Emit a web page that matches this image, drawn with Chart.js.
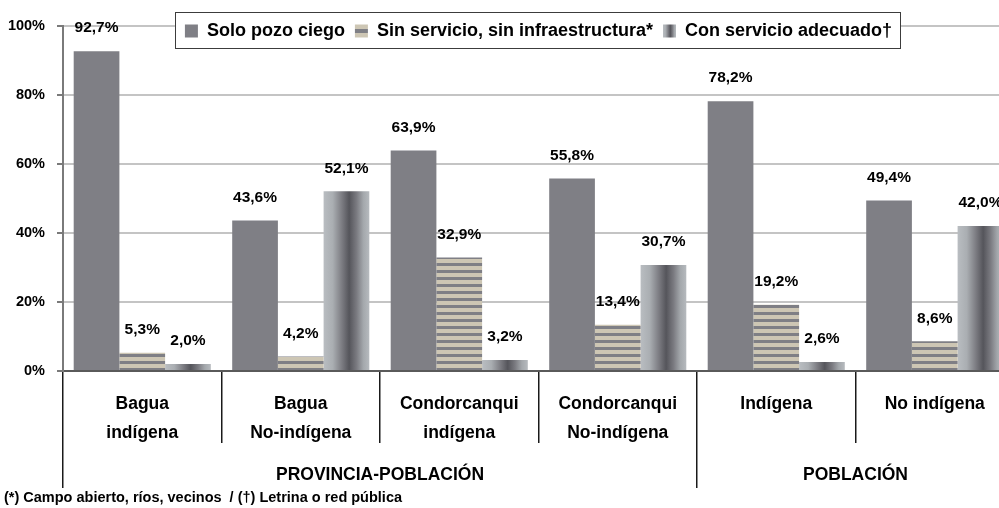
<!DOCTYPE html>
<html><head><meta charset="utf-8">
<script src="https://cdn.jsdelivr.net/npm/chart.js@4/dist/chart.umd.min.js"></script>
<style>html,body{margin:0;padding:0;background:#fff;overflow:hidden}
#wrap{width:999px;height:508px;overflow:hidden;position:relative;background:#fff}
canvas{display:block}</style></head>
<body><div id="wrap"><canvas id="c" width="1014" height="508"></canvas></div>
<script>
// ---- data ----
const categories = [['Bagua','indígena'],['Bagua','No-indígena'],['Condorcanqui','indígena'],['Condorcanqui','No-indígena'],['Indígena',''],['No indígena','']];
const seriesNames = ['Solo pozo ciego','Sin servicio, sin infraestructura*','Con servicio adecuado†'];
const soloPozo = [92.7, 43.6, 63.9, 55.8, 78.2, 49.4];
const sinServicio = [5.3, 4.2, 32.9, 13.4, 19.2, 8.6];
const conServicio = [2.0, 52.1, 3.2, 30.7, 2.6, 42.0];
const yTicks = [0, 20, 40, 60, 80, 100];
const groupNames = ['PROVINCIA-POBLACIÓN', 'POBLACIÓN'];
const groupSpans = [4, 2];
const footnote = '(*) Campo abierto, ríos, vecinos  / (†) Letrina o red pública';

// ---- styles ----
const FONT = "'Liberation Sans', Arial, sans-serif";
const CAT_PCT = 0.865;
const GRAY = '#7f7f85';
const BEIGE = '#cdc6b4';
const LEGEND_RAISE = 14;
const canvas = document.getElementById('c');
const mainCtx = canvas.getContext('2d');

function stripePattern() {
  const c = document.createElement('canvas');
  c.width = 8; c.height = 7;
  const g = c.getContext('2d');
  g.fillStyle = BEIGE; g.fillRect(0, 0, 8, 7);
  g.fillStyle = GRAY; g.fillRect(0, 4, 8, 3);
  return mainCtx.createPattern(c, 'repeat');
}
const STRIPES = stripePattern();

function barGradient(ctx2d, left, right) {
  const g = ctx2d.createLinearGradient(left, 0, right, 0);
  g.addColorStop(0, '#b9bdc1');
  g.addColorStop(0.2, '#aaaeb2');
  g.addColorStop(0.4, '#7c7c82');
  g.addColorStop(0.56, '#55555b');
  g.addColorStop(0.72, '#7a7a80');
  g.addColorStop(0.87, '#a4a8ac');
  g.addColorStop(1, '#b6babe');
  return g;
}

const boundaries = [0];
const groupCenters = [];
groupSpans.forEach((s) => { const b = boundaries[boundaries.length - 1]; groupCenters.push(b + s / 2); boundaries.push(b + s); });
const x2Ticks = boundaries.concat(groupCenters).sort((a, b) => a - b);

const fmt = v => v.toFixed(1).replace('.', ',') + '%';

// legend laid out as a single row at the top of the chart area
const legendRow = {
  id: 'legendRow',
  beforeUpdate(chart) {
    const lg = chart.legend;
    if (lg && !lg._rowPatched) {
      lg.isHorizontal = () => true;
      const orig = lg.setDimensions.bind(lg);
      lg.setDimensions = function () {
        const l = this.left, t = this.top;
        orig();
        if (typeof l === 'number') { this.left = l; this.right = l + this.width; }
        if (typeof t === 'number') { this.top = t - LEGEND_RAISE; }
      };
      lg._rowPatched = true;
    }
  }
};

const valueLabels = {
  id: 'valueLabels',
  afterDatasetsDraw(chart) {
    const ctx = chart.ctx;
    ctx.save();
    ctx.font = 'bold 15.5px ' + FONT;
    ctx.fillStyle = '#000';
    ctx.textAlign = 'center';
    ctx.textBaseline = 'middle';
    chart.data.datasets.forEach((ds, i) => {
      chart.getDatasetMeta(i).data.forEach((el, j) => {
        ctx.fillText(fmt(ds.data[j]), el.x, el.y - 23);
      });
    });
    ctx.restore();
  }
};

const legendFrame = {
  id: 'legendFrame',
  afterDraw(chart) {
    const lg = chart.legend;
    if (!lg || !lg.legendHitBoxes || !lg.legendHitBoxes.length) return;
    const hb = lg.legendHitBoxes;
    const ctx = chart.ctx;
    const bw = lg.options.labels.boxWidth, bh = lg.options.labels.boxHeight;
    const last = hb[hb.length - 1];
    const L = hb[0].left - 10, R = last.left + last.width + 8;
    const T = hb[0].top - 10, B = hb[0].top + hb[0].height + 8;
    ctx.save();
    ctx.fillStyle = '#fff';
    ctx.fillRect(L, T, R - L, B - T);
    ctx.strokeStyle = '#3c3c3c';
    ctx.lineWidth = 1;
    ctx.strokeRect(Math.round(L) + 0.5, Math.round(T) + 0.5, Math.round(R - L), Math.round(B - T));
    ctx.restore();
    const items = lg.legendItems;
    const iy = hb[1].top + (hb[1].height - bh) / 2;
    const sg = ctx.createLinearGradient(0, iy, 0, iy + bh);
    sg.addColorStop(0, BEIGE); sg.addColorStop(0.33, BEIGE);
    sg.addColorStop(0.33, GRAY); sg.addColorStop(0.66, GRAY);
    sg.addColorStop(0.66, BEIGE); sg.addColorStop(1, BEIGE);
    items[1].fillStyle = sg;
    items[2].fillStyle = barGradient(ctx, hb[2].left, hb[2].left + bw);
    lg.draw();
  }
};

new Chart(canvas, {
  type: 'bar',
  data: {
    labels: categories,
    datasets: [
      { label: seriesNames[0], data: soloPozo, backgroundColor: GRAY },
      { label: seriesNames[1], data: sinServicio, backgroundColor: STRIPES },
      { label: seriesNames[2], data: conServicio, backgroundColor: (c) => {
          const ch = c.chart, xs = ch.scales && ch.scales.x;
          if (c.type !== 'data' || !xs) return '#8a8a90';
          const center = xs.getPixelForValue(c.dataIndex);
          const catW = xs.width / categories.length;
          const groupW = catW * CAT_PCT;
          const w = groupW / 3;
          const left = center - groupW / 2 + 2 * w;
          return barGradient(ch.ctx, left, left + w);
        } }
    ]
  },
  options: {
    responsive: false,
    animation: false,
    devicePixelRatio: 1,
    layout: { padding: { left: 4, top: 26, right: 0, bottom: 0 } },
    datasets: { bar: { categoryPercentage: CAT_PCT, barPercentage: 1, borderWidth: 0 } },
    plugins: {
      tooltip: { enabled: false },
      legend: {
        position: 'chartArea',
        align: 'center',
        labels: {
          font: { family: FONT, size: 18, weight: 'bold' },
          color: '#000',
          boxWidth: 13, boxHeight: 13, padding: 10,
          generateLabels: () => seriesNames.map((n, i) => ({
            text: n, fillStyle: [GRAY, BEIGE, '#888'][i], strokeStyle: 'rgba(0,0,0,0)', lineWidth: 0, hidden: false, datasetIndex: i
          }))
        }
      },
      subtitle: {
        display: true, text: footnote, position: 'bottom', align: 'start', color: '#000',
        font: { family: FONT, size: 14.5, weight: 'bold', lineHeight: '15px' },
        padding: { top: 0, bottom: 3 }
      }
    },
    scales: {
      x: {
        type: 'category', offset: true,
        grid: { offset: true, drawOnChartArea: false, tickLength: 72, color: '#1a1a1a', lineWidth: 1.5 },
        border: { display: true, color: '#5a5a5a', width: 2 },
        ticks: { font: { family: FONT, size: 17.5, weight: 'bold', lineHeight: 1.7 }, color: '#000', padding: -54, maxRotation: 0, minRotation: 0, autoSkip: false },
        afterFit(s) { s.height = 72; }
      },
      x2: {
        type: 'linear', position: 'bottom', min: 0, max: boundaries[boundaries.length - 1], offset: false, weight: 1,
        grid: { offset: false, drawOnChartArea: false, tickLength: 45, lineWidth: 1.5,
          color: (c) => (c.tick && boundaries.includes(c.tick.value)) ? '#1a1a1a' : 'rgba(0,0,0,0)' },
        border: { display: false },
        afterBuildTicks(s) { s.ticks = x2Ticks.map(v => ({ value: v })); },
        ticks: { callback: (v) => { const k = groupCenters.indexOf(v); return k >= 0 ? groupNames[k] : ''; },
          font: { family: FONT, size: 17.5, weight: 'bold' }, color: '#000', padding: -23, maxRotation: 0, minRotation: 0, autoSkip: false },
        afterFit(s) { s.height = 47; }
      },
      y: {
        min: 0, max: 100,
        afterBuildTicks(s) { s.ticks = yTicks.map(v => ({ value: v })); },
        grid: { color: (c) => (c.tick && c.tick.value === 0) ? '#5a5a5a' : '#c4c4c4', lineWidth: 2, tickLength: 6, tickColor: '#7a7a7a' },
        border: { color: '#7a7a7a', width: 2 },
        ticks: { callback: v => v + '%', font: { family: FONT, size: 14.5, weight: 'bold' }, color: '#000', padding: 12 },
        afterFit(s) { s.width = 59; s.paddingTop = 0; s.paddingBottom = 0; }
      }
    }
  },
  plugins: [legendRow, valueLabels, legendFrame]
});
</script>
</body></html>
